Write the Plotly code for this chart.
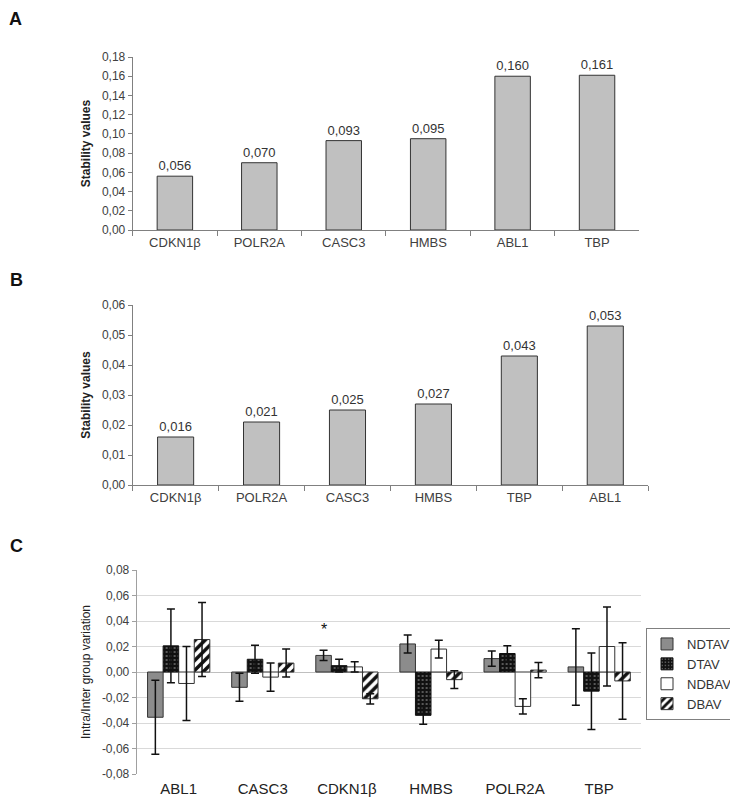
import plotly.graph_objects as go

# Panel A
genes_a = ["CDKN1β", "POLR2A", "CASC3", "HMBS", "ABL1", "TBP"]
vals_a = [0.056, 0.070, 0.093, 0.095, 0.160, 0.161]
# Panel B
genes_b = ["CDKN1β", "POLR2A", "CASC3", "HMBS", "TBP", "ABL1"]
vals_b = [0.016, 0.021, 0.025, 0.027, 0.043, 0.053]
# Panel C
genes_c = ["ABL1", "CASC3", "CDKN1β", "HMBS", "POLR2A", "TBP"]
ndtav = [-0.0355, -0.012, 0.013, 0.022, 0.0105, 0.004]
ndtav_err = [0.029, 0.011, 0.004, 0.007, 0.006, 0.030]
dtav = [0.0205, 0.010, 0.005, -0.034, 0.0145, -0.015]
dtav_err = [0.029, 0.011, 0.005, 0.007, 0.006, 0.030]
ndbav = [-0.009, -0.004, 0.004, 0.018, -0.027, 0.020]
ndbav_err = [0.029, 0.011, 0.004, 0.007, 0.006, 0.031]
dbav = [0.0255, 0.007, -0.021, -0.006, 0.0015, -0.007]
dbav_err = [0.029, 0.011, 0.004, 0.007, 0.006, 0.030]

ticks_a = [0, 0.02, 0.04, 0.06, 0.08, 0.10, 0.12, 0.14, 0.16, 0.18]
ticktext_a = ["0,00", "0,02", "0,04", "0,06", "0,08", "0,10", "0,12", "0,14", "0,16", "0,18"]
ticks_b = [0, 0.01, 0.02, 0.03, 0.04, 0.05, 0.06]
ticktext_b = ["0,00", "0,01", "0,02", "0,03", "0,04", "0,05", "0,06"]
ticks_c = [-0.08, -0.06, -0.04, -0.02, 0, 0.02, 0.04, 0.06, 0.08]
ticktext_c = ["-0,08", "-0,06", "-0,04", "-0,02", "0,00", "0,02", "0,04", "0,06", "0,08"]

FONT = "Arial, Liberation Sans, sans-serif"
OFF = 8                      # default page body margin
W, H = 738 - OFF, 802 - OFF  # figure size that fits the window


def px_x(a, b):
    return [(a - OFF) / W, (b - OFF) / W]


def px_y(top, bottom):
    return [1 - (bottom - OFF) / H, 1 - (top - OFF) / H]


def pxx(a):
    return (a - OFF) / W


def pxy(a):
    return 1 - (a - OFF) / H


fig = go.Figure()

fig.add_trace(go.Bar(
    x=genes_a, y=vals_a, width=0.42, xaxis="x", yaxis="y",
    marker=dict(color="#c0c0c0", line=dict(color="#333333", width=1)),
    texttemplate="%{y:.3f}", textposition="outside",
    textfont=dict(family=FONT, size=13, color="#333333"),
    cliponaxis=False, showlegend=False))

fig.add_trace(go.Bar(
    x=genes_b, y=vals_b, width=0.42, xaxis="x2", yaxis="y2",
    marker=dict(color="#c0c0c0", line=dict(color="#333333", width=1)),
    texttemplate="%{y:.3f}", textposition="outside",
    textfont=dict(family=FONT, size=13, color="#333333"),
    cliponaxis=False, showlegend=False))

err_style = dict(type="data", thickness=1.5, width=4, color="#111111")

fig.add_trace(go.Bar(
    name="NDTAV", x=genes_c, y=ndtav, xaxis="x3", yaxis="y3",
    error_y=dict(array=ndtav_err, **err_style),
    marker=dict(color="#8c8c8c", line=dict(color="#333333", width=1))))
fig.add_trace(go.Bar(
    name="DTAV", x=genes_c, y=dtav, xaxis="x3", yaxis="y3",
    error_y=dict(array=dtav_err, **err_style),
    marker=dict(color="#111111", line=dict(color="#111111", width=1),
                pattern=dict(shape=".", fgcolor="#bbbbbb", bgcolor="#111111", size=4, solidity=0.12))))
fig.add_trace(go.Bar(
    name="NDBAV", x=genes_c, y=ndbav, xaxis="x3", yaxis="y3",
    error_y=dict(array=ndbav_err, **err_style),
    marker=dict(color="white", line=dict(color="#333333", width=1))))
fig.add_trace(go.Bar(
    name="DBAV", x=genes_c, y=dbav, xaxis="x3", yaxis="y3",
    error_y=dict(array=dbav_err, **err_style),
    marker=dict(color="white", line=dict(color="#333333", width=1),
                pattern=dict(shape="/", fgcolor="#111111", bgcolor="white", size=7, solidity=0.5))))

axis_common = dict(showline=True, linecolor="#808080", linewidth=1, ticks="outside",
                   tickcolor="#808080", ticklen=4, showgrid=False, zeroline=False,
                   automargin=False,
                   tickfont=dict(family=FONT, size=12, color="#404040"))

title_font = dict(family=FONT, size=12, color="#222222")

layout = dict(
    template="none",
    width=W, height=H,
    margin=dict(l=0, r=0, t=0, b=0, pad=0),
    paper_bgcolor="white", plot_bgcolor="white",
    separators=",.",
    barmode="group", bargap=0.26, bargroupgap=0,
    font=dict(family=FONT, color="#333333"),
    xaxis=dict(domain=px_x(133, 641), anchor="y", tickson="boundaries",
               **{**axis_common, "tickfont": dict(family=FONT, size=13, color="#404040"), "ticklen": 5}),
    yaxis=dict(domain=px_y(57, 230), anchor="x", range=[0, 0.18],
               tickvals=ticks_a, ticktext=ticktext_a,
               title=dict(text="<b>Stability values</b>", font=title_font, standoff=8),
               **axis_common),
    xaxis2=dict(domain=px_x(133, 650), anchor="y2", tickson="boundaries",
                **{**axis_common, "tickfont": dict(family=FONT, size=13, color="#404040"), "ticklen": 5}),
    yaxis2=dict(domain=px_y(305, 485), anchor="x2", range=[0, 0.06],
                tickvals=ticks_b, ticktext=ticktext_b,
                title=dict(text="<b>Stability values</b>", font=title_font, standoff=8),
                **axis_common),
    xaxis3=dict(domain=px_x(137, 643), anchor="y3", showline=False, ticks="",
                showgrid=False, zeroline=False, ticklabelstandoff=4, automargin=False,
                tickfont=dict(family=FONT, size=15, color="#222222")),
    yaxis3=dict(domain=px_y(570, 774), anchor="x3", range=[-0.08, 0.08],
                tickvals=ticks_c, ticktext=ticktext_c, automargin=False,
                showline=True, linecolor="#a0a0a0", linewidth=1, ticks="outside",
                tickcolor="#a0a0a0", ticklen=4, showgrid=True, gridcolor="#d9d9d9",
                zeroline=True, zerolinecolor="#bfbfbf", zerolinewidth=1,
                tickfont=dict(family=FONT, size=12, color="#404040"),
                title=dict(text="Intra/Inter group variation", font=title_font, standoff=8)),
    legend=dict(x=pxx(648), y=pxy(628), xanchor="left", yanchor="top",
                bordercolor="#808080", borderwidth=1, bgcolor="white",
                font=dict(family=FONT, size=13, color="#333333"),
                itemwidth=30, tracegroupgap=0),
    annotations=[
        dict(text="<b>A</b>", x=pxx(8), y=1, xref="paper", yref="paper",
             xanchor="left", yanchor="top", showarrow=False, borderpad=0,
             font=dict(family=FONT, size=18, color="#111111")),
        dict(text="<b>B</b>", x=pxx(8), y=pxy(280), xref="paper", yref="paper",
             xanchor="left", yanchor="middle", showarrow=False,
             font=dict(family=FONT, size=18, color="#111111")),
        dict(text="<b>C</b>", x=pxx(8), y=pxy(546), xref="paper", yref="paper",
             xanchor="left", yanchor="middle", showarrow=False,
             font=dict(family=FONT, size=18, color="#111111")),
        dict(text="*", x="CDKN1β", y=0.033, xref="x3", yref="y3", xshift=-23,
             showarrow=False, font=dict(family=FONT, size=16, color="#111111")),
    ],
)
fig.update_layout(**layout)
fig.write_html("out.html")
